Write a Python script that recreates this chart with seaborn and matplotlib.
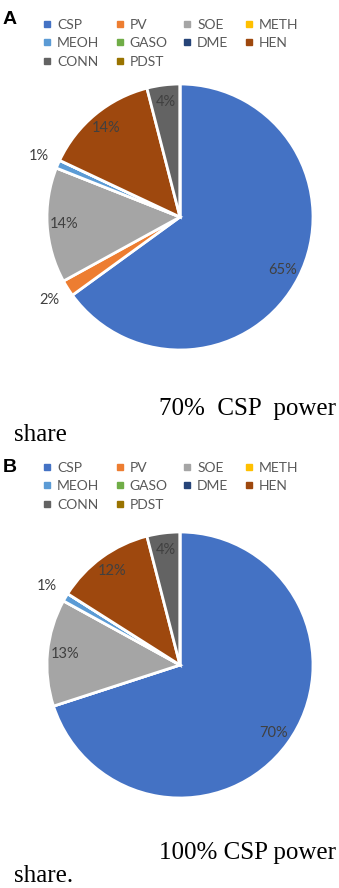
import numpy as np
import matplotlib.pyplot as plt
import seaborn as sns
from matplotlib.lines import Line2D

sns.set_theme(style="white")
plt.rcParams['font.family'] = ['Lato', 'DejaVu Sans']

# data
components = ['CSP', 'PV', 'SOE', 'METH', 'MEOH', 'GASO', 'DME', 'HEN', 'CONN', 'PDST']
share_70 = [65, 2, 14, 0, 1, 0, 0, 14, 4, 0]
share_100 = [70, 0, 13, 0, 1, 0, 0, 12, 4, 0]
colors = ['#4472C4', '#ED7D31', '#A5A5A5', '#FFC000', '#5B9BD5',
          '#70AD47', '#264478', '#9E480E', '#636363', '#997300']
panel_letters = ['A', 'B']
caption_lines = [('70%  CSP  power', 'share'), ('100% CSP power', 'share.')]

W, H = 339, 888
fig = plt.figure(figsize=(W / 100, H / 100), dpi=100)


def fx(x):
    return x / W


def fy(y):
    return 1 - y / H


# per-panel layout in pixels (from the top)
layout = [
    dict(letter=19, legend=19, pie=217, cap1=409, cap2=435),
    dict(letter=467, legend=462, pie=665, cap1=853, cap2=876),
]
R = 133
CX = 180

# legend order row-major in 4 columns
order = [0, 4, 8, 1, 5, 9, 2, 6, 3, 7]

for values, letter, caps, lay in zip([share_70, share_100], panel_letters, caption_lines, layout):
    ax = fig.add_axes([fx(CX - R), fy(lay['pie'] + R), 2 * R / W, 2 * R / H])
    wedges, _ = ax.pie(values, colors=colors, startangle=90, counterclock=False,
                       wedgeprops=dict(edgecolor='white', linewidth=2))
    ax.set_xlim(-1, 1)
    ax.set_ylim(-1, 1)
    ax.set_aspect('equal')
    ax.axis('off')

    for w, v in zip(wedges, values):
        if v == 0:
            continue
        ang = np.deg2rad((w.theta1 + w.theta2) / 2)
        r = 0.87 if v >= 3 else 1.16
        ax.text(r * np.cos(ang), r * np.sin(ang), f'{v}%', ha='center', va='center',
                fontsize=10.5, color='#404040')

    handles = [Line2D([], [], marker='s', linestyle='', markersize=4.2,
                      color=colors[i]) for i in order]
    labels = [components[i] for i in order]
    fig.legend(handles, labels, loc='upper left', ncol=4,
               bbox_to_anchor=(fx(44), fy(lay['legend'])), frameon=False,
               fontsize=10, labelcolor='#595959', handlelength=0.5,
               handletextpad=0.45, columnspacing=1.2, labelspacing=0.45,
               borderaxespad=0, borderpad=0)

    fig.text(fx(3), fy(lay['letter']), letter, fontsize=14, fontweight='bold',
             family='Liberation Sans', ha='left', va='center', color='black')
    fig.text(fx(336), fy(lay['cap1']), caps[0], fontsize=18, family='Liberation Serif',
             ha='right', va='center', color='black')
    fig.text(fx(14), fy(lay['cap2']), caps[1], fontsize=18, family='Liberation Serif',
             ha='left', va='center', color='black')

fig.savefig('out.png', dpi=100, facecolor='white')
